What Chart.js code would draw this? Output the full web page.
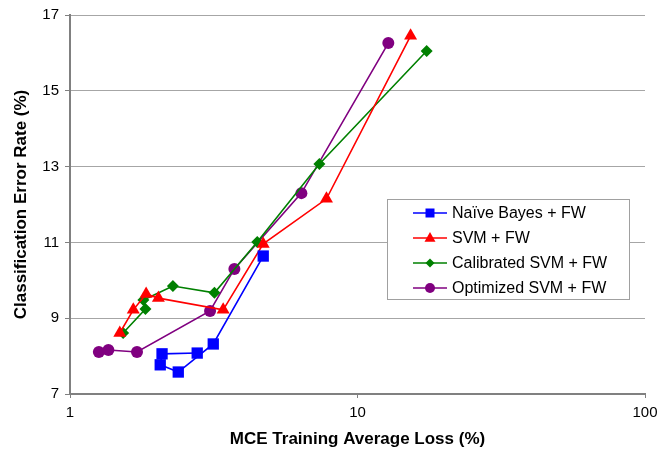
<!DOCTYPE html>
<html>
<head>
<meta charset="utf-8">
<script src="https://cdn.jsdelivr.net/npm/chart.js@4.4.1/dist/chart.umd.min.js"></script>
<style>
  html, body { margin: 0; padding: 0; background: #fff; }
  #wrap { width: 671px; height: 457px; }
</style>
</head>
<body>
<div id="wrap"><canvas id="chart" width="671" height="457"></canvas></div>
<script>
// values (x = training loss %, y = error rate %)
var seriesNames = ["Naïve Bayes + FW", "SVM + FW", "Calibrated SVM + FW", "Optimized SVM + FW"];
var nbLoss = [2.77, 2.09, 2.06, 2.38, 3.15, 4.70];
var nbErr = [8.08, 8.06, 7.77, 7.58, 8.32, 10.64];
var svmLoss = [1.49, 1.66, 1.84, 2.03, 3.41, 4.70, 7.80, 15.3];
var svmErr = [8.61, 9.22, 9.64, 9.53, 9.22, 10.96, 12.15, 16.45];
var calLoss = [1.53, 1.83, 1.80, 2.28, 3.18, 4.48, 7.37, 17.4];
var calErr = [8.61, 9.24, 9.48, 9.85, 9.67, 11.01, 13.07, 16.05];
var optLoss = [1.26, 1.36, 1.71, 3.07, 3.73, 6.38, 12.8];
var optErr = [8.11, 8.16, 8.11, 9.19, 10.30, 12.30, 16.26];
var xTicks = [1, 10, 100];
var yTicks = [7, 9, 11, 13, 15, 17];

var fontName = "'Liberation Sans', Arial, sans-serif";

function toPoints(xs, ys) {
    var pts = [];
    for (var i = 0; i < xs.length; i++) {
        pts.push({x: xs[i], y: ys[i]});
    }
    return pts;
}

function makeSet(label, xs, ys, color, style, radius) {
    return {
        label: label,
        data: toPoints(xs, ys),
        borderColor: color,
        backgroundColor: color,
        pointBackgroundColor: color,
        pointBorderColor: color,
        pointBorderWidth: 0,
        pointStyle: style,
        pointRadius: radius,
        pointHoverRadius: radius,
        borderWidth: 1.6,
        showLine: true,
        tension: 0
    };
}

// small marker for the legend box
function drawMarker(ctx, style, x, y, r) {
    ctx.beginPath();
    if (style == "rect") {
        ctx.rect(x - r, y - r, 2 * r, 2 * r);
    } else if (style == "triangle") {
        ctx.moveTo(x, y - r * 1.1);
        ctx.lineTo(x + r, y + r * 0.7);
        ctx.lineTo(x - r, y + r * 0.7);
        ctx.closePath();
    } else if (style == "rectRot") {
        ctx.moveTo(x, y - r);
        ctx.lineTo(x + r, y);
        ctx.lineTo(x, y + r);
        ctx.lineTo(x - r, y);
        ctx.closePath();
    } else {
        ctx.arc(x, y, r, 0, Math.PI * 2);
    }
    ctx.fill();
}

const boxLegend = {
    id: "boxLegend",
    afterDraw(chart) {
        const ctx = chart.ctx;
        const area = chart.chartArea;
        const left = area.left + 317;
        const top = area.top + 184;
        const w = 242, h = 100;
        ctx.save();
        ctx.fillStyle = "#fff";
        ctx.fillRect(left, top, w, h);
        ctx.strokeStyle = "#a0a0a0";
        ctx.lineWidth = 1;
        ctx.strokeRect(left + 0.5, top + 0.5, w, h);
        const sizes = [4.5, 5.5, 4.5, 5];
        chart.data.datasets.forEach(function (ds, i) {
            const cy = top + 14 + i * 25;
            ctx.strokeStyle = ds.borderColor;
            ctx.fillStyle = ds.borderColor;
            ctx.lineWidth = 1.6;
            ctx.beginPath();
            ctx.moveTo(left + 26, cy);
            ctx.lineTo(left + 60, cy);
            ctx.stroke();
            drawMarker(ctx, ds.pointStyle, left + 43, cy, sizes[i]);
            ctx.fillStyle = "#000";
            ctx.font = "16px " + fontName;
            ctx.textBaseline = "middle";
            ctx.textAlign = "left";
            ctx.fillText(ds.label, left + 65, cy + 1);
        });
        ctx.restore();
    }
};

const ctx = document.getElementById("chart").getContext("2d");
const chart = new Chart(ctx, {
    type: "scatter",
    data: {
        datasets: [
            makeSet(seriesNames[0], nbLoss, nbErr, "#0000ff", "rect", 8),
            makeSet(seriesNames[1], svmLoss, svmErr, "#ff0000", "triangle", 7.5),
            makeSet(seriesNames[2], calLoss, calErr, "#008000", "rectRot", 6),
            makeSet(seriesNames[3], optLoss, optErr, "#800080", "circle", 6)
        ]
    },
    options: {
        responsive: false,
        animation: false,
        layout: {padding: {top: 15, right: 26, left: 0, bottom: 0}},
        plugins: {
            legend: {display: false},
            tooltip: {enabled: false}
        },
        scales: {
            x: {
                type: "logarithmic",
                min: 1,
                max: 100,
                afterBuildTicks: function (scale) {
                    scale.ticks = xTicks.map(function (v) { return {value: v}; });
                },
                afterFit: function (scale) { scale.height = 63; },
                ticks: {
                    color: "#000",
                    font: {family: fontName, size: 15},
                    padding: 6,
                    maxRotation: 0,
                    callback: function (v) { return String(v); }
                },
                grid: {drawOnChartArea: false, drawTicks: true, tickLength: 4, color: "#808080"},
                border: {color: "#808080", width: 2},
                title: {
                    display: true,
                    text: "MCE Training Average Loss (%)",
                    color: "#000",
                    font: {family: fontName, size: 17, weight: "bold"},
                    padding: {top: 4, bottom: 7}
                }
            },
            y: {
                min: 7,
                max: 17,
                afterBuildTicks: function (scale) {
                    scale.ticks = yTicks.map(function (v) { return {value: v}; });
                },
                afterFit: function (scale) { scale.width = 70; },
                ticks: {
                    color: "#000",
                    font: {family: fontName, size: 15},
                    padding: 6
                },
                grid: {color: "#a6a6a6", lineWidth: 1, tickLength: 5, tickColor: "#808080"},
                border: {color: "#808080", width: 2},
                title: {
                    display: true,
                    text: "Classification Error Rate (%)",
                    color: "#000",
                    font: {family: fontName, size: 17, weight: "bold"},
                    padding: {top: 11, bottom: 4}
                }
            }
        }
    },
    plugins: [boxLegend]
});
</script>
</body>
</html>
